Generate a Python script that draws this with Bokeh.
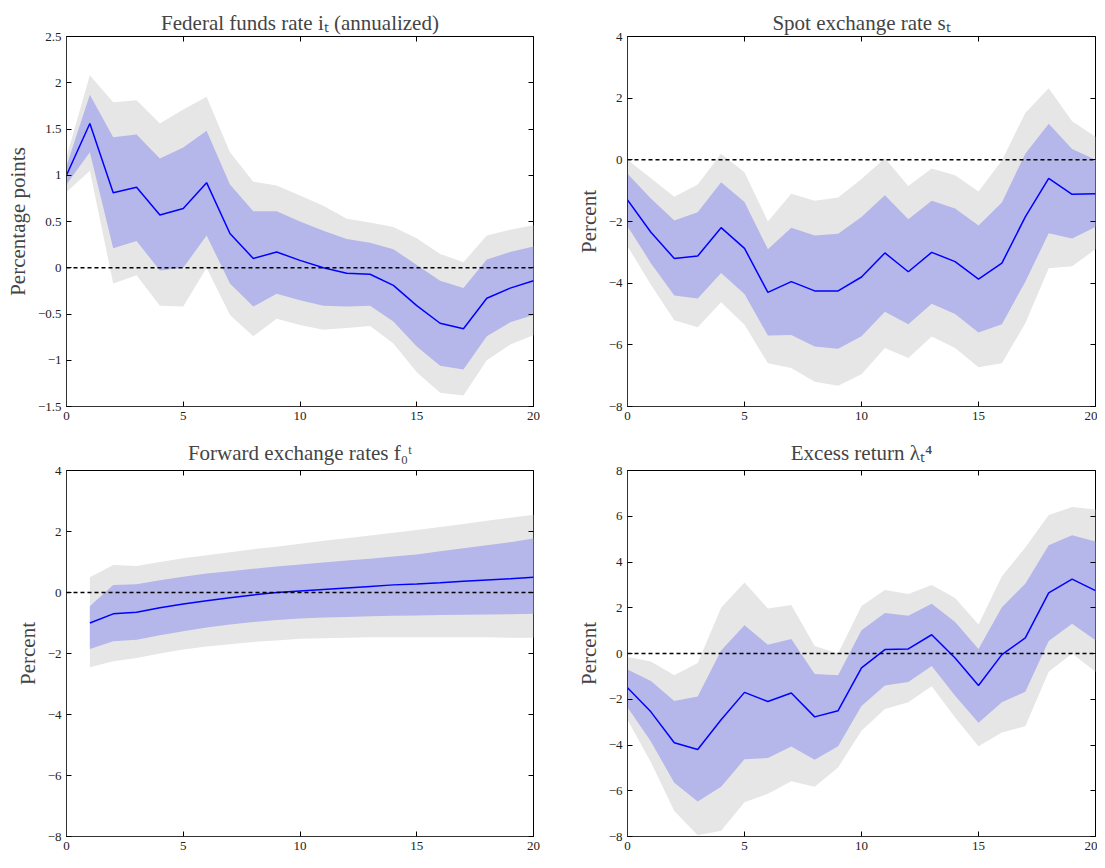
from bokeh.plotting import figure
from bokeh.models import Span, LinearAxis, FixedTicker, Range1d
from bokeh.layouts import gridplot
from bokeh.embed import file_html
from bokeh.resources import INLINE

# ---- data ----
ff_x = list(range(0, 21))
ff_mid = [1.0,1.56,0.81,0.87,0.57,0.64,0.92,0.37,0.10,0.17,0.08,0.0,-0.06,-0.07,-0.19,-0.41,-0.60,-0.66,-0.33,-0.22,-0.14]
ff_in_hi = [1.1,1.87,1.41,1.44,1.18,1.30,1.48,0.90,0.61,0.61,0.50,0.40,0.31,0.27,0.20,0.03,-0.14,-0.22,0.09,0.17,0.23]
ff_in_lo = [0.9,1.25,0.21,0.29,-0.03,0.0,0.35,-0.17,-0.42,-0.28,-0.35,-0.41,-0.42,-0.41,-0.58,-0.85,-1.06,-1.10,-0.74,-0.59,-0.51]
ff_out_hi = [1.2,2.08,1.79,1.81,1.56,1.71,1.85,1.25,0.93,0.89,0.78,0.67,0.53,0.49,0.44,0.32,0.15,0.06,0.35,0.41,0.46]
ff_out_lo = [0.82,1.05,-0.17,-0.08,-0.41,-0.42,0.0,-0.51,-0.74,-0.55,-0.62,-0.67,-0.65,-0.63,-0.82,-1.13,-1.35,-1.38,-1.00,-0.83,-0.73]

sp_x = list(range(0, 21))
sp_mid = [-1.3,-2.35,-3.2,-3.12,-2.2,-2.87,-4.3,-3.95,-4.25,-4.25,-3.8,-3.02,-3.63,-3.0,-3.3,-3.87,-3.35,-1.85,-0.6,-1.12,-1.1]
sp_in_hi = [-0.45,-1.25,-1.97,-1.7,-0.73,-1.37,-2.9,-2.2,-2.45,-2.4,-1.85,-1.15,-1.93,-1.33,-1.58,-2.13,-1.38,0.2,1.17,0.35,0.0]
sp_in_lo = [-2.15,-3.35,-4.4,-4.5,-3.67,-4.35,-5.7,-5.68,-6.05,-6.13,-5.72,-4.93,-5.33,-4.67,-5.0,-5.6,-5.33,-3.95,-2.38,-2.55,-2.18]
sp_out_hi = [0.0,-0.6,-1.2,-0.8,0.2,-0.4,-2.0,-1.1,-1.33,-1.22,-0.62,0.05,-0.85,-0.28,-0.5,-1.03,-0.02,1.52,2.32,1.25,0.75]
sp_out_lo = [-2.8,-4.05,-5.2,-5.43,-4.62,-5.35,-6.6,-6.75,-7.2,-7.33,-6.95,-6.1,-6.43,-5.73,-6.1,-6.73,-6.6,-5.3,-3.52,-3.45,-2.9]

fw_x = list(range(1, 21))
fw_mid = [-1.0,-0.7,-0.65,-0.5,-0.38,-0.27,-0.17,-0.08,0.0,0.05,0.1,0.15,0.2,0.25,0.28,0.32,0.37,0.41,0.45,0.5]
fw_in_hi = [-0.45,0.25,0.27,0.4,0.52,0.62,0.7,0.78,0.85,0.92,0.98,1.05,1.11,1.18,1.25,1.35,1.45,1.55,1.65,1.77]
fw_in_lo = [-1.85,-1.6,-1.55,-1.4,-1.27,-1.15,-1.05,-0.97,-0.9,-0.85,-0.82,-0.8,-0.78,-0.76,-0.75,-0.74,-0.73,-0.72,-0.71,-0.7]
fw_out_hi = [0.5,0.9,0.87,1.0,1.12,1.22,1.32,1.42,1.5,1.6,1.7,1.78,1.87,1.96,2.05,2.15,2.25,2.35,2.45,2.55]
fw_out_lo = [-2.45,-2.25,-2.15,-2.0,-1.87,-1.77,-1.7,-1.62,-1.57,-1.52,-1.5,-1.48,-1.47,-1.47,-1.47,-1.47,-1.47,-1.47,-1.48,-1.48]

ex_x = list(range(0, 21))
ex_mid = [-1.5,-2.55,-3.9,-4.2,-2.9,-1.7,-2.1,-1.73,-2.77,-2.5,-0.63,0.17,0.2,0.82,-0.2,-1.4,-0.05,0.68,2.65,3.25,2.75]
ex_in_hi = [-0.7,-1.2,-2.08,-1.88,0.13,1.23,0.38,0.63,-0.9,-0.95,1.02,1.77,1.65,2.17,1.38,0.2,2.02,3.05,4.73,5.17,4.9]
ex_in_lo = [-2.35,-3.85,-5.65,-6.47,-5.82,-4.62,-4.57,-4.07,-4.65,-4.05,-2.3,-1.4,-1.25,-0.55,-1.85,-3.03,-2.13,-1.67,0.55,1.3,0.58]
ex_out_hi = [-0.15,-0.35,-0.95,-0.42,2.0,3.1,1.97,2.12,0.33,0.0,2.08,2.78,2.6,3.0,2.43,1.27,3.38,4.63,6.05,6.4,6.3]
ex_out_lo = [-2.9,-4.75,-6.88,-7.95,-7.75,-6.5,-6.13,-5.58,-5.82,-4.98,-3.38,-2.43,-2.13,-1.43,-2.8,-4.05,-3.45,-3.18,-0.8,0.0,-0.8]

FONT = "Liberation Serif"

def panel(title, ylabel, x, mid, ilo, ihi, olo, ohi, yr, yticks, w, h, bl, br, bt, bb, standoff):
    p = figure(width=w, height=h, output_backend="svg", toolbar_location=None,
               x_range=Range1d(0, 20), y_range=Range1d(*yr),
               min_border_left=bl, min_border_right=br, min_border_top=bt, min_border_bottom=bb)
    p.title.text = title
    p.title.align = "center"
    p.title.text_font = FONT
    p.title.text_font_size = "21px"
    p.title.text_font_style = "normal"
    p.title.standoff = standoff
    p.varea(x=x, y1=olo, y2=ohi, fill_color="#e6e6e6")
    p.varea(x=x, y1=ilo, y2=ihi, fill_color="#b5b6e9")
    p.line(x, mid, line_color="#0000ff", line_width=1.5)
    p.add_layout(Span(location=0, dimension="width", line_color="black", line_dash="4 3", line_width=1.5))
    p.grid.visible = False
    p.outline_line_color = "black"
    p.xaxis.ticker = FixedTicker(ticks=[0, 5, 10, 15, 20])
    p.yaxis.ticker = FixedTicker(ticks=yticks)
    p.yaxis.axis_label = ylabel
    p.yaxis.axis_label_text_font = FONT
    p.yaxis.axis_label_text_font_size = "21px"
    p.yaxis.axis_label_text_font_style = "normal"
    for ax in (p.xaxis, p.yaxis):
        ax.major_label_text_font = FONT
        ax.major_label_text_font_size = "13px"
        ax.major_label_text_color = "#222222"
        ax.major_tick_in = 5
        ax.major_tick_out = 0
        ax.minor_tick_line_color = None
        ax.axis_line_color = "#333333"
    for side, t in (("right", yticks), ("above", [0, 5, 10, 15, 20])):
        a = LinearAxis(ticker=FixedTicker(ticks=t), major_label_text_font_size="0px",
                       major_tick_in=5, major_tick_out=0, minor_tick_line_color=None,
                       axis_line_color=None, major_label_standoff=0)
        p.add_layout(a, side)
    return p

p1 = panel("Federal funds rate iₜ (annualized)", "Percentage points", ff_x, ff_mid, ff_in_lo, ff_in_hi, ff_out_lo, ff_out_hi,
           (-1.5, 2.5), [-1.5, -1, -0.5, 0, 0.5, 1, 1.5, 2, 2.5], 552, 432, 66, 19, 36, 26, 4)
p2 = panel("Spot exchange rate sₜ", "Percent", sp_x, sp_mid, sp_in_lo, sp_in_hi, sp_out_lo, sp_out_hi,
           (-8, 4), [-8, -6, -4, -2, 0, 2, 4], 545, 432, 75, 2, 36, 26, 4)
p3 = panel("Forward exchange rates f₀ᵗ", "Percent", fw_x, fw_mid, fw_in_lo, fw_in_hi, fw_out_lo, fw_out_hi,
           (-8, 4), [-8, -6, -4, -2, 0, 2, 4], 552, 420, 66, 19, 31, 14, 12)
p4 = panel("Excess return λₜ⁴", "Percent", ex_x, ex_mid, ex_in_lo, ex_in_hi, ex_out_lo, ex_out_hi,
           (-8, 8), [-8, -6, -4, -2, 0, 2, 4, 6, 8], 545, 420, 75, 2, 31, 14, 12)

g = gridplot([[p1, p2], [p3, p4]], toolbar_location=None)
open("out.html", "w").write(file_html(g, INLINE))
